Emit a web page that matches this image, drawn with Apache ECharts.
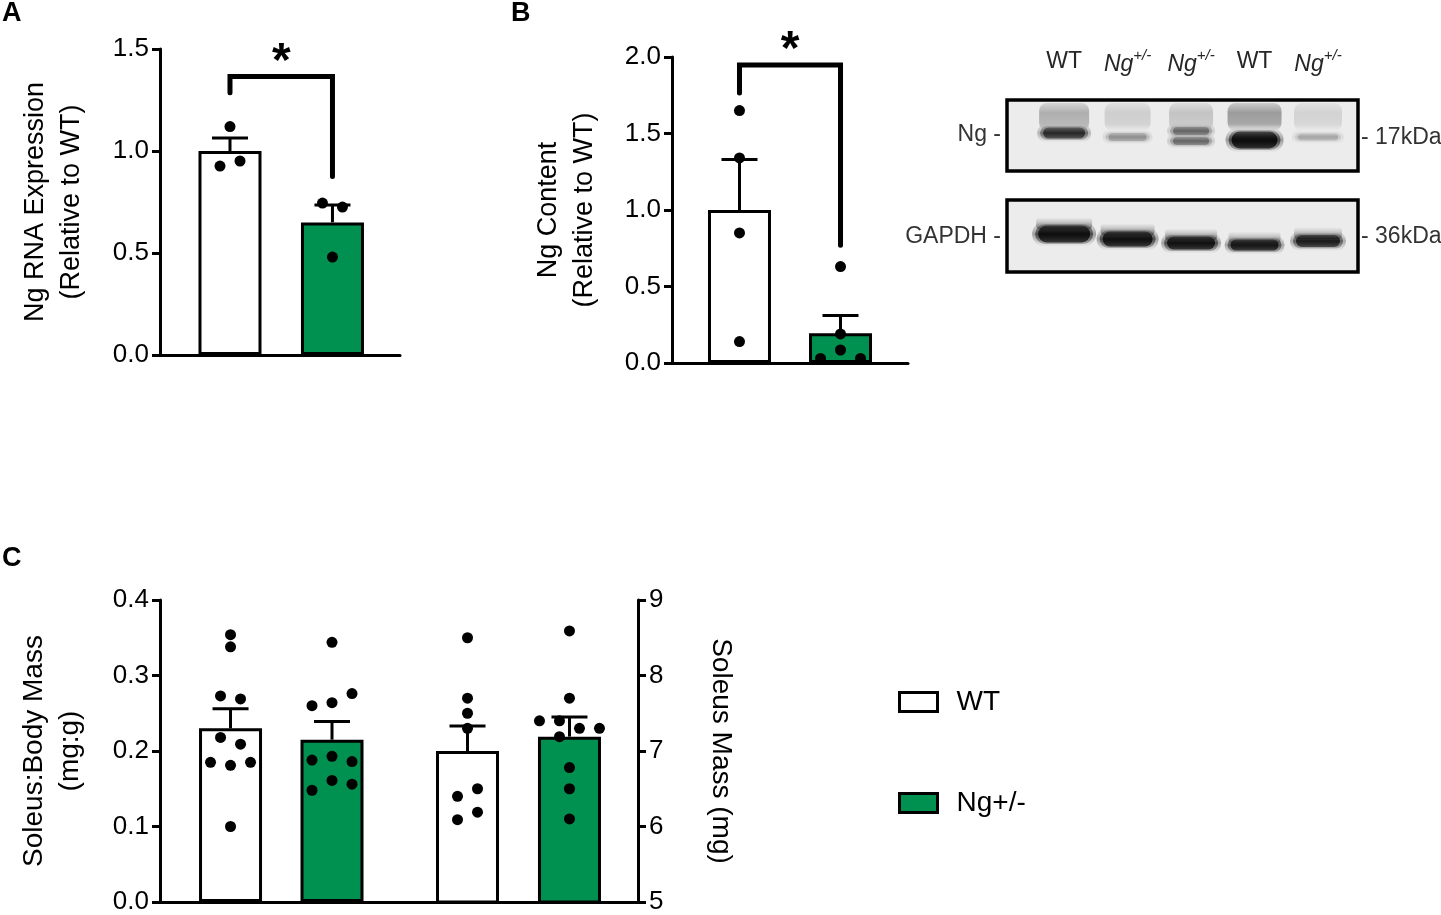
<!DOCTYPE html>
<html><head><meta charset="utf-8">
<script src="https://cdn.jsdelivr.net/npm/echarts@6/dist/echarts.min.js"></script>
<style>html,body{margin:0;padding:0;background:#fff}#c{width:1441px;height:915px}</style>
</head><body><div id="c"></div>
<script>
// ================= DATA =================
const groups = ['WT', 'Ng+/-'];

// Panel A – Ng RNA expression (relative to WT)
const ticksA = [0.0, 0.5, 1.0, 1.5];
const aMean = [1.00, 0.65];
const aErr  = [0.064, 0.085];
const aWT   = [1.12, 0.926, 0.951];
const aNg   = [0.745, 0.725, 0.48];
const aSig  = [1.285, 1.365, 0.875];   // bracket: left end, top, right end

// Panel B – Ng content (relative to WT)
const ticksB = [0.0, 0.5, 1.0, 1.5, 2.0];
const bMean = [1.00, 0.195];
const bErr  = [0.33, 0.115];
const bWT   = [1.65, 1.34, 0.85, 0.14];
const bNg   = [0.63, 0.19, 0.03, 0.085, 0.03];
const bSig  = [1.765, 1.948, 0.77];

// Panel C – soleus : body mass (left axis) and soleus mass (right axis)
const ticksCRatio = [0.0, 0.1, 0.2, 0.3, 0.4];
const cRatioMean = [0.230, 0.215];
const cRatioErr  = [0.026, 0.024];
const cRatioWT = [0.354, 0.338, 0.273, 0.269, 0.218, 0.209, 0.185, 0.181, 0.185, 0.10];
const cRatioNg = [0.344, 0.26, 0.264, 0.276, 0.188, 0.193, 0.186, 0.148, 0.161, 0.156];

const ticksCMass = [5, 6, 7, 8, 9];
const cMassMean = [7.00, 7.19];
const cMassErr  = [0.33, 0.26];
const cMassWT = [8.50, 7.70, 7.50, 7.30, 6.40, 6.50, 6.09, 6.19];
const cMassNg = [8.59, 7.70, 7.40, 7.40, 7.30, 7.30, 7.19, 6.78, 6.50, 6.10];

// Western blot lanes (relative band intensity)
const laneLabels = ['WT', 'Ng+/-', 'Ng+/-', 'WT', 'Ng+/-'];
const ngBand    = [0.72, 0.25, 0.40, 1.00, 0.18];
const gapdhBand = [0.97, 0.95, 0.93, 0.88, 0.82];
const blotRows  = ['Ng -', 'GAPDH -'];
const blotMarkers = ['- 17kDa', '- 36kDa'];

// ================= LAYOUT / STYLE =================
const FONT = '"Liberation Sans", Arial, Helvetica, sans-serif';
const GREEN = '#00904f';
const L = {
  A:  {left: 160, top: 49,  width: 240, height: 306, xmin: -0.683, xmax: 1.659},
  B:  {left: 672, top: 57,  width: 236, height: 306, xmin: -0.668, xmax: 1.668},
  C1: {left: 160, top: 600, width: 240, height: 305, xmin: -0.695, xmax: 1.670},
  C2: {left: 400, top: 600, width: 238, height: 305, xmin: -0.662, xmax: 1.672},
  W:  {left: 1007, top: 100, width: 351, height: 172, xmin: -0.9, xmax: 4.63}
};
const bandLayout = {
  ng: [[{dy: 33, h: 11, w: 46}], [{dy: 37, h: 8, w: 42}], [{dy: 31, h: 8, w: 40}, {dy: 41, h: 8, w: 40}],
       [{dy: 40, h: 17, w: 50}], [{dy: 37, h: 7, w: 44}]],
  gapdh: [{dy: 34, h: 17, w: 56}, {dy: 39, h: 15, w: 54}, {dy: 43, h: 13, w: 52}, {dy: 45, h: 11, w: 52}, {dy: 41, h: 12, w: 48}],
  rowGap: 100, boxH: [71, 72], labelDy: -38
};

// beeswarm-like horizontal spreading of dots with close values (pixel space)
function jitter(values, pxPerUnit, slot = 20, thr = 10.5, maxRow = 4) {
  const idx = values.map((v, i) => i).sort((a, b) => values[b] - values[a]);
  const clusters = []; let cur = [idx[0]];
  for (let k = 1; k < idx.length; k++) {
    const gap = (values[idx[k - 1]] - values[idx[k]]) * pxPerUnit;
    if (gap < thr) cur.push(idx[k]); else { clusters.push(cur); cur = [idx[k]]; }
  }
  clusters.push(cur);
  const off = new Array(values.length).fill(0);
  clusters.forEach(c => {
    c.sort((a, b) => a - b);
    const row = c.slice(0, maxRow), rest = c.slice(maxRow);
    row.forEach((i, j) => off[i] = (j - (row.length - 1) / 2) * slot);
    const start = Math.floor((row.length - rest.length) / 2);
    rest.forEach((i, j) => off[i] = (start + j - (row.length - 1) / 2) * slot);
  });
  return off;
}

function renderErr(params, api) {
  const p0 = api.coord([api.value(0), api.value(1)]);
  const p1 = api.coord([api.value(0), api.value(2)]);
  const st = {stroke: '#000', lineWidth: 3};
  return {type: 'group', children: [
    {type: 'line', shape: {x1: p0[0], y1: p0[1], x2: p1[0], y2: p1[1]}, style: st},
    {type: 'line', shape: {x1: p1[0] - 18, y1: p1[1], x2: p1[0] + 18, y2: p1[1]}, style: st}
  ]};
}
function renderSig(params, api) {
  const x1 = api.value(0), x2 = api.value(1);
  const a = api.coord([x1, api.value(2)]), b = api.coord([x1, api.value(3)]);
  const c = api.coord([x2, api.value(3)]), d = api.coord([x2, api.value(4)]);
  return {type: 'group', children: [
    {type: 'polyline', shape: {points: [a, b, c, d]}, style: {stroke: '#000', lineWidth: 5, fill: null, lineJoin: 'miter', lineCap: 'round'}},
    {type: 'text', style: {text: '*', x: (b[0] + c[0]) / 2, y: b[1] - 14, textAlign: 'center', textVerticalAlign: 'middle', font: 'bold 48px ' + FONT, fill: '#000'}}
  ]};
}

function axisPair(key, gi, ticks, yName, nameGap, pos, decimals, nameRotate, nameSize) {
  const g = L[key];
  const x = {gridIndex: gi, type: 'value', min: g.xmin, max: g.xmax,
    axisLine: {show: true, onZero: false, lineStyle: {color: '#000', width: 3}},
    axisTick: {show: false}, axisLabel: {show: false}, splitLine: {show: false}};
  const y = {gridIndex: gi, type: 'value', position: pos,
    min: ticks[0], max: ticks[ticks.length - 1], interval: ticks[1] - ticks[0],
    axisLine: {show: true, onZero: false, lineStyle: {color: '#000', width: 3}},
    axisTick: {show: true, length: 8, lineStyle: {color: '#000', width: 3}},
    axisLabel: {formatter: v => v.toFixed(decimals), fontSize: 26, color: '#000', margin: 11, fontFamily: FONT},
    splitLine: {show: false},
    name: yName, nameLocation: 'middle', nameRotate: nameRotate, nameGap: nameGap,
    nameTextStyle: {fontSize: nameSize, lineHeight: 36, color: '#000', fontFamily: FONT}};
  return [x, y];
}

function panelSeries(gi, key, ticks, means, errs, wt, ng, sig) {
  const g = L[key];
  const ppu = g.height / (ticks[ticks.length - 1] - ticks[0]);
  const s = [];
  s.push({type: 'bar', name: groups[0], xAxisIndex: gi, yAxisIndex: gi, data: [[0, means[0]]], barWidth: 63, barGap: '-100%',
    itemStyle: {color: '#fff', borderColor: '#000', borderWidth: 3}, z: 2, silent: true});
  s.push({type: 'bar', name: groups[1], xAxisIndex: gi, yAxisIndex: gi, data: [[1, means[1]]], barWidth: 63, barGap: '-100%',
    itemStyle: {color: GREEN, borderColor: '#000', borderWidth: 3}, z: 2, silent: true});
  s.push({type: 'custom', xAxisIndex: gi, yAxisIndex: gi, renderItem: renderErr, silent: true, z: 3,
    data: [[0, means[0], means[0] + errs[0]], [1, means[1], means[1] + errs[1]]]});
  [wt, ng].forEach((vals, k) => {
    const off = jitter(vals, ppu);
    s.push({type: 'scatter', xAxisIndex: gi, yAxisIndex: gi, symbol: 'circle', symbolSize: 11, silent: true, z: 4,
      itemStyle: {color: '#000', opacity: 1}, data: vals.map((v, i) => ({value: [k, v], symbolOffset: [off[i], 0]}))});
  });
  if (sig) {
    s.push({type: 'custom', xAxisIndex: gi, yAxisIndex: gi, renderItem: renderSig, silent: true, z: 5,
      encode: {x: [0, 1], y: [2, 3, 4]}, data: [[0, 1, sig[0], sig[1], sig[2]]]});
  }
  return s;
}

// ---------- blot ----------
function renderFrames(params, api) {
  const cs = params.coordSys;
  return {type: 'group', children: [0, 1].map(r => ({
    type: 'rect', shape: {x: cs.x, y: cs.y + r * bandLayout.rowGap, width: cs.width, height: bandLayout.boxH[r]},
    style: {fill: '#ececec', stroke: '#000', lineWidth: 3.5}
  }))};
}
const ink = a => 'rgba(12,12,12,' + Math.max(0, Math.min(1, a)) + ')';
const vgrad = stops => ({type: 'linear', x: 0, y: 0, x2: 0, y2: 1, colorStops: stops.map(s => ({offset: s[0], color: ink(s[1])}))});
function band(cx, y, w, h, a) {
  return [
    {type: 'rect', shape: {x: cx - w / 2 - 4, y: y - h / 2 - 4, width: w + 8, height: h + 8, r: (h + 8) / 2},
      style: {fill: vgrad([[0, 0], [0.5, a * 0.35], [1, 0]])}},
    {type: 'rect', shape: {x: cx - w / 2 - 1, y: y - h / 2 - 1.5, width: w + 2, height: h + 3, r: (h + 3) / 2},
      style: {fill: vgrad([[0, a * 0.2], [0.5, a * 0.6], [1, a * 0.25]])}},
    {type: 'rect', shape: {x: cx - w / 2 + 2, y: y - h / 2, width: w - 4, height: h, r: h / 2},
      style: {fill: vgrad([[0, a * 0.55], [0.5, a], [1, a * 0.7]])}}
  ];
}
function renderLane(params, api) {
  const cs = params.coordSys;
  const lane = api.value(0), ngI = api.value(1), gI = api.value(2);
  const cx = api.coord([lane, 0])[0];
  const top1 = cs.y, top2 = cs.y + bandLayout.rowGap;
  const ch = [];
  const w0 = bandLayout.ng[lane][0].w;
  // diffuse smear above the Ng band
  ch.push({type: 'rect', shape: {x: cx - w0 / 2 - 2, y: top1 + 3, width: w0 + 4, height: 28, r: 8},
    style: {fill: vgrad([[0, 0.02 + 0.12 * ngI], [0.35, 0.06 + 0.3 * ngI], [0.75, 0.05 + 0.25 * ngI], [1, 0.0]])}});
  bandLayout.ng[lane].forEach(b => band(cx, top1 + b.dy, b.w, b.h, ngI).forEach(e => ch.push(e)));
  const gb = bandLayout.gapdh[lane];
  ch.push({type: 'rect', shape: {x: cx - gb.w / 2, y: top2 + gb.dy - gb.h / 2 - 8, width: gb.w, height: 12, r: 4},
    style: {fill: vgrad([[0, 0], [1, 0.45 * gI]])}});
  band(cx, top2 + gb.dy, gb.w, gb.h, gI).forEach(e => ch.push(e));
  const lbl = laneLabels[lane];
  const m = lbl.match(/^(\w+)(\+\/-)$/);
  ch.push({type: 'text', style: {
    text: m ? '{n|' + m[1] + '}{s|' + m[2] + '}' : lbl,
    x: cx, y: cs.y + bandLayout.labelDy, textAlign: 'center', textVerticalAlign: 'middle',
    font: '23px ' + FONT, fill: '#262626',
    rich: {n: {fontSize: 23, fontStyle: 'italic', fontFamily: FONT, fill: '#262626', color: '#262626', lineHeight: 28, verticalAlign: 'bottom'},
           s: {fontSize: 15, fontStyle: 'italic', fontFamily: FONT, fill: '#262626', color: '#262626', lineHeight: 28, verticalAlign: 'top'}}
  }});
  return {type: 'group', children: ch};
}

// ================= OPTION =================
const [xA, yA] = axisPair('A', 0, ticksA, 'Ng RNA Expression\n(Relative to WT)', 70, 'left', 1, 90, 27);
const [xB, yB] = axisPair('B', 1, ticksB, 'Ng Content\n(Relative to WT)', 69, 'left', 1, 90, 27);
const [xC1, yC1] = axisPair('C1', 2, ticksCRatio, 'Soleus:Body Mass\n(mg:g)', 72, 'left', 1, 90, 28);
const [xC2, yC2] = axisPair('C2', 3, ticksCMass, 'Soleus Mass (mg)', 65, 'right', 0, -90, 28);
const xW = {gridIndex: 4, type: 'value', min: L.W.xmin, max: L.W.xmax, show: false};
const yW = {gridIndex: 4, type: 'value', min: 0, max: 1, show: false};

const grids = ['A', 'B', 'C1', 'C2', 'W'].map(k => ({left: L[k].left, top: L[k].top, width: L[k].width, height: L[k].height, containLabel: false}));

const series = [].concat(
  panelSeries(0, 'A', ticksA, aMean, aErr, aWT, aNg, aSig),
  panelSeries(1, 'B', ticksB, bMean, bErr, bWT, bNg, bSig),
  panelSeries(2, 'C1', ticksCRatio, cRatioMean, cRatioErr, cRatioWT, cRatioNg, null),
  panelSeries(3, 'C2', ticksCMass, cMassMean, cMassErr, cMassWT, cMassNg, null),
  [
    {type: 'custom', xAxisIndex: 4, yAxisIndex: 4, renderItem: renderFrames, data: [[0, 0]], silent: true, z: 1},
    {type: 'custom', xAxisIndex: 4, yAxisIndex: 4, renderItem: renderLane, silent: true, z: 2,
      data: laneLabels.map((l, i) => [i, ngBand[i], gapdhBand[i]])}
  ]
);

const txt = (text, x, y, align, font, fill) => ({type: 'text', style: {text, x, y, textAlign: align, textVerticalAlign: 'middle', font, fill}});
const graphic = [
  {type: 'text', style: {text: 'A', x: 2, y: 0, textVerticalAlign: 'top', font: 'bold 27px ' + FONT, fill: '#000'}},
  {type: 'text', style: {text: 'B', x: 511, y: 0, textVerticalAlign: 'top', font: 'bold 27px ' + FONT, fill: '#000'}},
  {type: 'text', style: {text: 'C', x: 2, y: 545, textVerticalAlign: 'top', font: 'bold 27px ' + FONT, fill: '#000'}},
  txt(blotRows[0], 1001, 135, 'right', '23px ' + FONT, '#333'),
  txt(blotRows[1], 1001, 237, 'right', '23px ' + FONT, '#333'),
  txt(blotMarkers[0], 1361, 138, 'left', '23px ' + FONT, '#333'),
  txt(blotMarkers[1], 1361, 237, 'left', '23px ' + FONT, '#333')
];

const chart = echarts.init(document.getElementById('c'), null, {renderer: 'canvas'});
chart.setOption({
  animation: false,
  backgroundColor: '#fff',
  textStyle: {fontFamily: FONT},
  grid: grids,
  xAxis: [xA, xB, xC1, xC2, xW],
  yAxis: [yA, yB, yC1, yC2, yW],
  legend: {data: groups, orient: 'vertical', left: 898, top: 688, padding: 0, itemWidth: 38, itemHeight: 19, itemGap: 73,
    icon: 'rect', selectedMode: false,
    itemStyle: {borderColor: '#000', borderWidth: 3},
    textStyle: {fontSize: 28, lineHeight: 28, color: '#000', fontFamily: FONT, padding: [0, 0, 0, 14]}},
  graphic: graphic,
  series: series
});
</script>
</body></html>
